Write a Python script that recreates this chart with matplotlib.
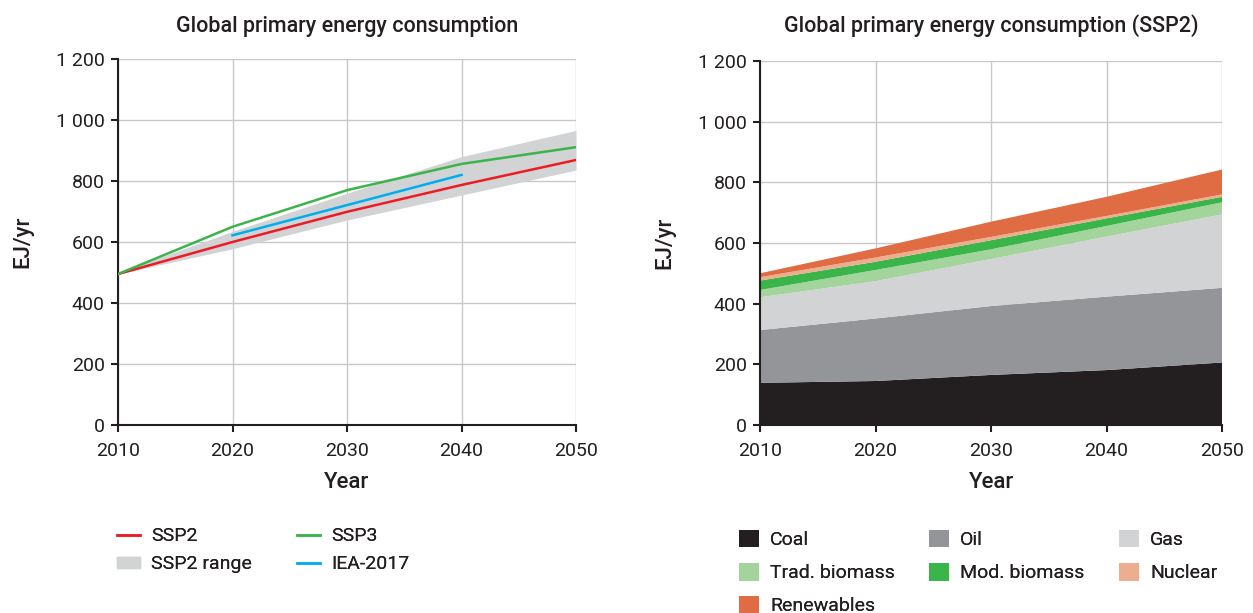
import matplotlib
matplotlib.use("Agg")
import matplotlib.pyplot as plt
from matplotlib.lines import Line2D
from matplotlib.patches import Patch
from matplotlib.ticker import FuncFormatter

plt.rcParams["font.family"] = ["Roboto", "DejaVu Sans"]

# ---------------------------------------------------------------------------
# data (EJ/yr)
# ---------------------------------------------------------------------------
years = [2010, 2020, 2030, 2040, 2050]

ssp2 = [495, 600, 699, 787, 869]
ssp3 = [495, 650, 770, 856, 911]
ssp2_lo = [495, 578, 672, 754, 836]
ssp2_hi = [500, 635, 760, 880, 966]
iea_years = [2020, 2030, 2040]
iea_2017 = [622, 721, 820]

coal = [139, 145, 165, 181, 206]
oil = [174, 206, 227, 242, 246]
gas = [108, 123, 155, 198, 242]
trad_bio = [24, 37, 32, 35, 40]
mod_bio = [31, 27, 30, 25, 18]
nuclear = [11, 14, 11, 8, 8]
renew = [13, 30, 50, 63, 82]

mix_labels = ["Coal", "Oil", "Gas", "Trad. biomass", "Mod. biomass",
              "Nuclear", "Renewables"]
mix_colors = ["#231f20", "#939598", "#d1d3d4", "#a3d49c", "#39b54a",
              "#edae8f", "#e06c43"]

RED, GREEN, BLUE, GREY = "#ed1c24", "#3cb44b", "#00aeef", "#d1d3d4"
TXT = "#231f20"
FS_TICK, FS_LAB, FS_TITLE, FS_LEG = 14, 16, 15.5, 14


def thousands(v, _):
    return f"{int(v):,}".replace(",", " ")


def style(ax, title, title_pad):
    ax.set_xlim(2010, 2050)
    ax.set_ylim(0, 1200)
    ax.set_xticks(years)
    ax.set_yticks(range(0, 1201, 200))
    ax.yaxis.set_major_formatter(FuncFormatter(thousands))
    ax.grid(True, color="#c8c8c8", lw=1.0)
    ax.set_axisbelow(True)
    for s in ("top", "right"):
        ax.spines[s].set_visible(False)
    for s in ("left", "bottom"):
        ax.spines[s].set_linewidth(1.5)
        ax.spines[s].set_color(TXT)
    ax.tick_params(length=5, width=1.5, color=TXT, labelsize=FS_TICK, labelcolor=TXT)
    ax.tick_params(axis="x", pad=7.5)
    ax.tick_params(axis="y", pad=4.5)
    ax.set_xlabel("Year", fontsize=FS_LAB, fontweight="medium", color=TXT, labelpad=8.5)
    ax.set_ylabel("EJ/yr", fontsize=FS_LAB, fontweight="medium", color=TXT, labelpad=16)
    ax.set_title(title, fontsize=FS_TITLE, fontweight="medium", color=TXT, pad=title_pad)


def legend_col(handles, labels, x, y, **kw):
    # one legend per column so the columns sit on a fixed grid
    lg = fig.legend(handles, labels, loc="upper left", bbox_to_anchor=(x, y),
                    frameon=False, fontsize=FS_LEG, borderpad=0, borderaxespad=0,
                    labelcolor=TXT, **kw)
    fig.add_artist(lg)


fig = plt.figure(figsize=(12.53, 6.13), dpi=100)
ax1 = fig.add_axes([0.0942, 0.3067, 0.3655, 0.597])
ax2 = fig.add_axes([0.6066, 0.3067, 0.3687, 0.594])

# left: scenarios
ax1.fill_between(years, ssp2_lo, ssp2_hi, color=GREY, lw=0, zorder=2)
ax1.plot(years, ssp2, color=RED, lw=1.8, zorder=4)
ax1.plot(years, ssp3, color=GREEN, lw=1.8, zorder=4)
ax1.plot(iea_years, iea_2017, color=BLUE, lw=1.8, zorder=4)
style(ax1, "Global primary energy consumption", 19.5)

# right: SSP2 fuel mix
ax2.stackplot(years, coal, oil, gas, trad_bio, mod_bio, nuclear, renew,
              colors=mix_colors, lw=0, zorder=2)
style(ax2, "Global primary energy consumption (SSP2)", 21)

# legends, left chart
line_kw = dict(handlelength=1.2, handleheight=0.5, handletextpad=0.57,
               labelspacing=0.53)
legend_col([Line2D([], [], color=RED, lw=1.8), Patch(color=GREY)],
           ["SSP2", "SSP2 range"], 0.0934, 0.1400, **line_kw)
legend_col([Line2D([], [], color=GREEN, lw=1.8), Line2D([], [], color=BLUE, lw=1.8)],
           ["SSP3", "IEA-2017"], 0.237, 0.1400, **line_kw)

# legends, right chart
box_kw = dict(handlelength=1.03, handleheight=1.03, handletextpad=0.57,
              labelspacing=0.7)
cols = [[0, 3, 6], [1, 4], [2, 5]]
for idx, x in zip(cols, [0.5898, 0.7414, 0.893]):
    legend_col([Patch(color=mix_colors[i], lw=0) for i in idx],
               [mix_labels[i] for i in idx], x, 0.136, **box_kw)

fig.savefig("out.png", dpi=100)
